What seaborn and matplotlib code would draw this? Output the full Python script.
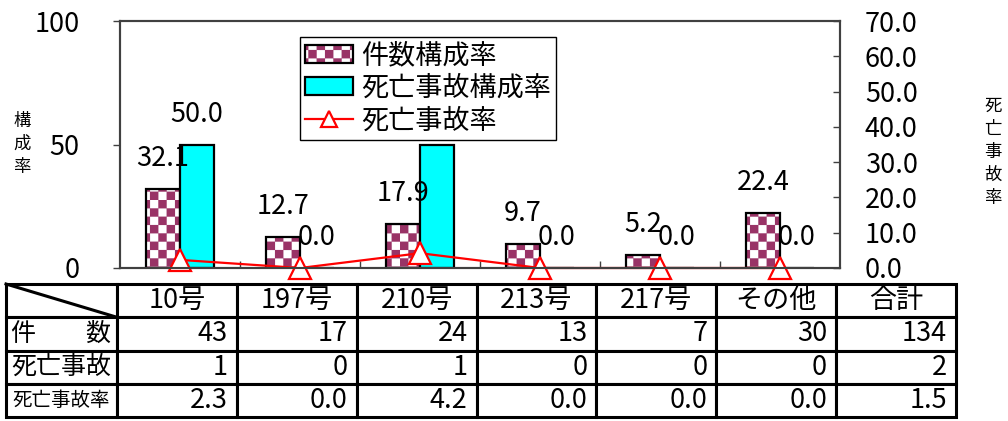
import warnings
import numpy as np
import pandas as pd
import matplotlib
matplotlib.use("Agg")
import matplotlib.pyplot as plt
from matplotlib import hatch as mhatch
from matplotlib.path import Path
from matplotlib.patches import Patch
from matplotlib.lines import Line2D
from matplotlib.colors import to_rgba
import seaborn as sns

warnings.filterwarnings("ignore")

# data
categories = ["10号", "197号", "210号", "213号", "217号", "その他"]
count_share = [32.1, 12.7, 17.9, 9.7, 5.2, 22.4]      # 件数構成率
fatal_share = [50.0, 0.0, 50.0, 0.0, 0.0, 0.0]        # 死亡事故構成率
fatal_rate = [2.3, 0.0, 4.2, 0.0, 0.0, 0.0]           # 死亡事故率

table_cols = categories + ["合計"]
counts = [43, 17, 24, 13, 7, 30, 134]
fatal_counts = [1, 0, 1, 0, 0, 0, 2]
fatal_rates = [2.3, 0.0, 4.2, 0.0, 0.0, 0.0, 1.5]

MAROON = "#993366"
CYAN = "#00FFFF"


# checkerboard hatch ('c'), the look of the Excel pattern fill
class CheckerHatch(mhatch.HatchPatternBase):
    def __init__(self, hatch, density):
        n = 12 if "c" in hatch else 0
        self.n = n
        self.cells = [(i, j) for i in range(n) for j in range(n) if (i + j) % 2 == 0]
        self.num_vertices = len(self.cells) * 5

    def set_vertices_and_codes(self, vertices, codes):
        s = 1.0 / self.n
        for k, (i, j) in enumerate(self.cells):
            x0, y0 = i * s, j * s
            vertices[5 * k:5 * k + 5] = [(x0, y0), (x0 + s, y0), (x0 + s, y0 + s),
                                         (x0, y0 + s), (x0, y0)]
            codes[5 * k:5 * k + 5] = [Path.MOVETO, Path.LINETO, Path.LINETO,
                                      Path.LINETO, Path.CLOSEPOLY]


mhatch._hatch_types.append(CheckerHatch)

plt.rcParams["font.family"] = ["Noto Sans CJK JP", "DejaVu Sans"]
plt.rcParams["hatch.linewidth"] = 0.1

df = pd.DataFrame({
    "category": categories * 2,
    "value": count_share + fatal_share,
    "series": ["件数構成率"] * 6 + ["死亡事故構成率"] * 6,
})

W, H = 1008, 421
fig = plt.figure(figsize=(W / 100, H / 100), dpi=100)
ax = fig.add_axes([120 / W, 153 / H, 720 / W, 247 / H])

sns.barplot(data=df, x="category", y="value", hue="series",
            palette=["white", CYAN], saturation=1, width=0.567,
            edgecolor="black", linewidth=1.6, legend=False, ax=ax)

for p in ax.containers[0]:
    p.set_hatch("c")
    p._hatch_color = to_rgba(MAROON)

for cont in ax.containers:
    ax.bar_label(cont, fmt="%.1f", padding=12, fontsize=19.5)

ax.set_ylim(0, 100)
ax.set_yticks([0, 50, 100])
ax.set_xlabel("")
ax.set_ylabel("")
ax.set_xticks(np.arange(len(categories) - 1) + 0.5)
ax.set_xticklabels([])
ax.tick_params(axis="x", direction="in", length=5, width=1, color="#404040")
ax.tick_params(axis="y", direction="out", length=5, width=1, color="#404040",
               labelsize=19.5, pad=24)
for s in ax.spines.values():
    s.set_color("#404040")
    s.set_linewidth(1.5)

ax2 = ax.twinx()
sns.lineplot(x=np.arange(len(categories)), y=fatal_rate, ax=ax2, color="red",
             linewidth=1.6, marker="^", markersize=16, markerfacecolor="white",
             markeredgecolor="red", markeredgewidth=1.6, clip_on=False)
ax2.set_ylim(0, 70)
ax2.set_yticks(np.arange(0, 71, 10))
ax2.set_yticklabels([f"{v:.1f}" for v in np.arange(0, 71, 10)])
ax2.tick_params(axis="y", direction="in", length=5, width=1, color="#404040",
                labelsize=19.5, pad=18)
for s in ax2.spines.values():
    s.set_color("#404040")
    s.set_linewidth(1.5)
ax.set_xlim(-0.5, len(categories) - 0.5)

# legend
h1 = Patch(facecolor="white", edgecolor="black", linewidth=1.6, hatch="c")
h1._hatch_color = to_rgba(MAROON)
h2 = Patch(facecolor=CYAN, edgecolor="black", linewidth=1.6)
h3 = Line2D([], [], color="red", linewidth=1.6, marker="^", markersize=12,
            markerfacecolor="white", markeredgecolor="red", markeredgewidth=1.6)
leg = ax2.legend([h1, h2, h3], ["件数構成率", "死亡事故構成率", "死亡事故率"],
                 loc="upper left", bbox_to_anchor=(0.25, 0.935), fontsize=19.5,
                 frameon=True, fancybox=False, framealpha=1, edgecolor="black",
                 handlelength=1.75, handleheight=0.65, handletextpad=0.3,
                 labelspacing=0.2, borderpad=0.2, borderaxespad=0)
leg.get_frame().set_linewidth(1.0)

# axis titles, stacked vertically
fig.text(22 / W, 1 - 144 / H, "\n".join("構成率"), ha="center", va="center",
         fontsize=12.5, linespacing=1.35)
fig.text(993 / W, 1 - 152 / H, "\n".join("死亡事故率"), ha="center", va="center",
         fontsize=12.5, linespacing=1.35)

# data table under the chart
tax = fig.add_axes([6 / W, 4 / H, 950 / W, 133 / H])
tax.axis("off")
rows = [[""] + table_cols,
        ["件　　数"] + [str(v) for v in counts],
        ["死亡事故"] + [str(v) for v in fatal_counts],
        ["死亡事故率"] + [f"{v:.1f}" for v in fatal_rates]]
col_w = [111] + [120] * 7
tbl = tax.table(cellText=rows, colWidths=[c / sum(col_w) for c in col_w],
                bbox=[0, 0, 1, 1], cellLoc="right")
tbl.auto_set_font_size(False)
tbl.set_fontsize(19.5)
for (r, c), cell in tbl.get_celld().items():
    cell.set_linewidth(2.2)
    cell.set_edgecolor("black")
    cell.PAD = 0.075
    if r == 0 or c == 0:
        cell.get_text().set_horizontalalignment("center")
    if c == 0:
        cell.get_text().set_fontsize(18)
tbl[3, 0].get_text().set_fontsize(14)
tax.plot([0, col_w[0] / sum(col_w)], [1, 0.75], color="black", linewidth=2.2,
         transform=tax.transAxes, clip_on=False)

fig.savefig("out.png", dpi=100)
